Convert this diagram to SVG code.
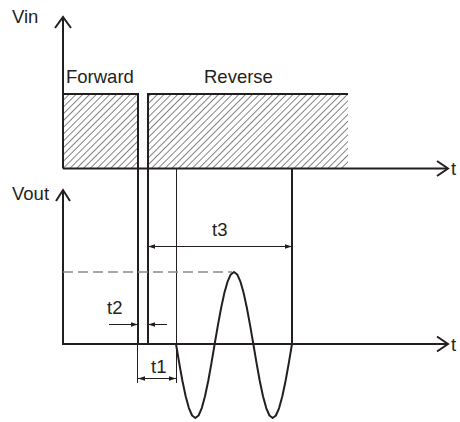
<svg xmlns="http://www.w3.org/2000/svg" width="460" height="422" viewBox="0 0 460 422">
<defs>
<pattern id="hatch" patternUnits="userSpaceOnUse" width="4.8" height="10" patternTransform="rotate(45)">
<line x1="0" y1="0" x2="0" y2="10" stroke="#231f20" stroke-width="1.1"/>
</pattern>
<marker id="arr" markerUnits="userSpaceOnUse" markerWidth="8" markerHeight="6" refX="7" refY="3" orient="auto-start-reverse">
<path d="M0,0.8 L7,3 L0,5.2 Z" fill="#231f20"/>
</marker>
</defs>
<style>
.thick{stroke:#231f20;stroke-width:2;fill:none}
.thin{stroke:#231f20;stroke-width:1;fill:none}
.dim{stroke:#231f20;stroke-width:1;fill:none}
.dash{stroke:#8a8a8a;stroke-width:1.5;fill:none;stroke-dasharray:10 5}
text{font-family:"Liberation Sans",Arial,sans-serif;font-size:18.5px;fill:#231f20}
</style>
<g id="vin-pulses">
<rect x="63" y="94" width="75" height="74.5" fill="url(#hatch)"/>
<rect x="148" y="94" width="200" height="74.5" fill="url(#hatch)"/>
<polyline class="thick" points="63,94 138,94 138,344"/>
<polyline class="thick" points="148,344 148,94 348,94"/>
</g>
<g id="axes">
<line class="thick" x1="63" y1="168.5" x2="63" y2="18"/>
<polyline class="thick" points="55,28 63,17 71,28"/>
<line class="thick" x1="63" y1="168.5" x2="447" y2="168.5"/>
<polyline class="thick" points="437,161 448,168.5 437,176"/>
<line class="thick" x1="63" y1="344" x2="63" y2="191"/>
<polyline class="thick" points="56,201 63,190 70,201"/>
<line class="thick" x1="62" y1="344" x2="447" y2="344"/>
<polyline class="thick" points="437,336.5 448,344 437,351.5"/>
<text x="12" y="23">Vin</text>
<text x="12" y="200">Vout</text>
<text x="451" y="175">t</text>
<text x="451" y="351">t</text>
</g>
<g id="labels">
<text x="66" y="83">Forward</text>
<text x="204" y="83">Reverse</text>
</g>
<g id="markers">
<line class="thin" x1="176.5" y1="168.5" x2="176.5" y2="383"/>
<line class="thick" x1="292" y1="168.5" x2="292" y2="344"/>
<line class="thin" x1="137.5" y1="344" x2="137.5" y2="383"/>
<line class="dash" x1="63" y1="272" x2="232" y2="272"/>
</g>
<g id="signal">
<polyline class="thick" stroke-linejoin="round" points="176,344 179.22,363.15 182.44,381 185.67,396.33 188.89,408.09 192.11,415.48 195.33,418 198.56,415.48 201.78,408.09 205,396.33 208.22,381 211.44,363.15 214.67,344 217.89,325.37 221.11,308 224.33,293.09 227.56,281.65 230.78,274.46 234,272 237.22,274.46 240.44,281.65 243.67,293.09 246.89,308 250.11,325.37 253.33,344 256.56,363.15 259.78,381 263,396.33 266.22,408.09 269.44,415.48 272.67,418 275.89,415.48 279.11,408.09 282.33,396.33 285.56,381 288.78,363.15 292,344"/>
</g>
<g id="dimensions">
<line class="dim" x1="148" y1="246.5" x2="292" y2="246.5" marker-start="url(#arr)" marker-end="url(#arr)"/>
<text x="212" y="236">t3</text>
<line class="dim" x1="109" y1="324.5" x2="138" y2="324.5" marker-end="url(#arr)"/>
<line class="dim" x1="167" y1="324.5" x2="148" y2="324.5" marker-end="url(#arr)"/>
<text x="107" y="314">t2</text>
<line class="dim" x1="138" y1="378.5" x2="176" y2="378.5" marker-start="url(#arr)" marker-end="url(#arr)"/>
<text x="151" y="373">t1</text>
</g>
</svg>
